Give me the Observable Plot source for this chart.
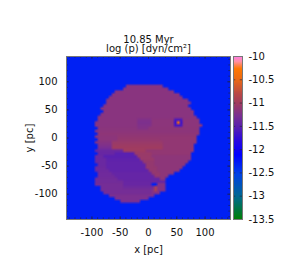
<!DOCTYPE html>
<html><head><meta charset="utf-8">
<script src="https://cdn.jsdelivr.net/npm/d3@7"></script>
<script src="https://cdn.jsdelivr.net/npm/@observablehq/plot@0.6"></script>
<style>html,body{margin:0;padding:0;background:#fff}#c{position:relative;width:295px;height:276px;overflow:hidden}#c svg{position:absolute;overflow:visible}</style>
</head><body><div id="c"></div>
<script>
const title = "10.85 Myr";
const subtitle = "log (p) [dyn/cm²]";
const xLabel = "x [pc]";
const yLabel = "y [pc]";
const majorTicks = [-100,-50,0,50,100];
const minorTicks = [-140,-130,-120,-110,-100,-90,-80,-70,-60,-50,-40,-30,-20,-10,0,10,20,30,40,50,60,70,80,90,100,110,120,130,140];
const barTicks = [-10,-10.5,-11,-11.5,-12,-12.5,-13,-13.5];
const colorStops = [-13.5,-13,-12.5,-12.1,-11.8,-11.5,-11.25,-11,-10.8,-10.5,-10.25,-10.1,-10];
const colorValues = ["#008000","#006a90","#0040e8","#0000ff","#2808e0","#5a20b0","#7c3090","#a03c60","#b84848","#e86818","#ff7800","#ff90a0","#ff80e0"];
const background = -12.3;
const gridSize = 58;
const extent = 145;
// one entry per grid row from the top: first row number, first column, then pairs of log p and run length
const rows = [
[10,21,-11.16,13],[11,20,-11.16,16],[12,17,-11.16,21],[13,16,-11.16,24],[14,15,-11.16,26],
[15,14,-11.16,29],[16,14,-11.16,30],[17,13,-11.16,30],[18,12,-11.16,32],[19,13,-11.16,32],
[20,12,-11.16,33],[21,11,-11.16,35],
[22,11,-11.16,14,-11.22,5,-11.14,8,-11.6,3,-11.14,6],
[23,10,-11.16,15,-11.24,5,-11.14,8,-11.7,1,-10.3,1,-11.7,1,-11.14,6],
[24,10,-11.16,15,-11.22,5,-11.14,8,-11.6,3,-11.14,7],
[25,11,-11.15,14,-11.2,4,-11.13,18],
[26,10,-11.14,37],[27,11,-11.12,36],
[28,10,-11.14,8,-11.1,15,-11.1,13],
[29,11,-11.14,7,-11.08,15,-11.1,13],
[30,10,-11.18,6,-11.05,18,-11.1,12],
[31,11,-11.22,5,-11.02,18,-11.1,11],
[32,11,-11.28,5,-11,18,-11.1,11],
[33,10,-11.38,10,-11,8,-11.1,17],
[34,11,-11.4,6,-11.5,7,-11.04,6,-11.1,14],
[35,10,-11.38,3,-11.5,12,-11.05,5,-11.13,14],
[36,10,-11.38,4,-11.47,12,-11.05,5,-11.13,13],
[37,10,-11.38,4,-11.45,13,-11.08,4,-11.13,12],
[38,11,-11.38,3,-11.45,14,-11.08,3,-11.13,11],
[39,10,-11.36,4,-11.45,14,-11.08,4,-11.13,9],
[40,10,-11.36,5,-11.45,14,-11.08,3,-11.13,8],
[41,11,-11.34,5,-11.42,14,-11.08,3,-11.13,5],
[42,11,-11.34,6,-11.42,14,-11.08,2,-11.13,3],
[43,10,-11.32,8,-11.42,15,-11.13,2],
[44,10,-11.32,10,-11.4,15],
[45,10,-11.3,10,-11.4,10,-12.3,2,-11.2,3],
[46,12,-11.3,8,-11.35,10,-11.3,1,-10.9,1,-11.2,3],
[47,12,-11.3,18,-11.2,1,-10.9,1,-11.2,3],
[48,13,-11.3,17,-11.2,3],
[49,15,-11.25,16],[50,17,-11.25,12],[51,19,-11.25,7]
];
const grid = new Array(gridSize*gridSize).fill(background);
for (const [r,c0,...runs] of rows) {
  let c = c0;
  for (let i=0;i<runs.length;i+=2) for (let k=0;k<runs[i+1];k++) grid[r*gridSize+(c++)] = runs[i];
}
const barLevels = d3.range(-10,-13.5,-0.02);
const color = {type:"linear",domain:colorStops,range:colorValues,clamp:true,interpolate:"rgb"};
const font = "'DejaVu Sans', sans-serif";
const ink = "#111";
const host = document.getElementById("c");
const tickStyle = {stroke:"#223",strokeWidth:0.6};
const inward = (len, ticks) => [
  Plot.ruleX(ticks,{x:d=>d,y1:-extent,y2:-extent+len,...tickStyle}),
  Plot.ruleX(ticks,{x:d=>d,y1:extent-len,y2:extent,...tickStyle}),
  Plot.ruleY(ticks,{y:d=>d,x1:-extent,x2:-extent+len,...tickStyle}),
  Plot.ruleY(ticks,{y:d=>d,x1:extent-len,x2:extent,...tickStyle})
];

const main = Plot.plot({
  width:295,height:276,marginLeft:66,marginRight:65,marginTop:56,marginBottom:57,
  style:{fontFamily:font,fontSize:"10px",color:ink,background:"transparent"},
  x:{domain:[-extent,extent]},y:{domain:[-extent,extent]},color,
  marks:[
    Plot.raster(grid,{width:gridSize,height:gridSize,x1:-extent,x2:extent,y1:extent,y2:-extent,imageRendering:"auto"}),
    Plot.axisX({ticks:majorTicks,tickFormat:d=>String(d),tickSize:0,tickPadding:9,label:xLabel,labelAnchor:"center",labelArrow:"none",labelOffset:33}),
    Plot.axisY({ticks:majorTicks,tickFormat:d=>String(d),tickSize:0,tickPadding:9,label:yLabel,labelAnchor:"center",labelArrow:"none",labelOffset:41}),
    ...inward(3,minorTicks),
    ...inward(5,majorTicks),
    Plot.frame({stroke:"#777",strokeWidth:1}),
    Plot.text([title],{frameAnchor:"top",dy:-21,text:d=>d,fontSize:10,fill:ink}),
    Plot.text([subtitle],{frameAnchor:"top",dy:-12,text:d=>d,fontSize:10,fill:ink})
  ]
});
main.style.left="0";main.style.top="0";
host.appendChild(main);

const bar = Plot.plot({
  width:55,height:276,marginLeft:3,marginRight:43,marginTop:56,marginBottom:57,
  style:{fontFamily:font,fontSize:"10px",color:ink,background:"transparent"},
  x:{domain:[0,1],axis:null},y:{domain:[-13.5,-10]},color,
  marks:[
    Plot.raster(barLevels,{width:1,height:barLevels.length,x1:0,x2:1,y1:-10,y2:-13.5,imageRendering:"auto"}),
    Plot.axisY({anchor:"right",ticks:barTicks,tickFormat:d=>String(d),tickSize:0,tickPadding:6,label:null}),
    Plot.ruleY(barTicks,{y:d=>d,x1:0,x2:0.25,...tickStyle}),
    Plot.ruleY(barTicks,{y:d=>d,x1:0.75,x2:1,...tickStyle}),
    Plot.frame({stroke:"#777",strokeWidth:1})
  ]
});
bar.style.left="230px";bar.style.top="0";
host.appendChild(bar);
</script></body></html>
